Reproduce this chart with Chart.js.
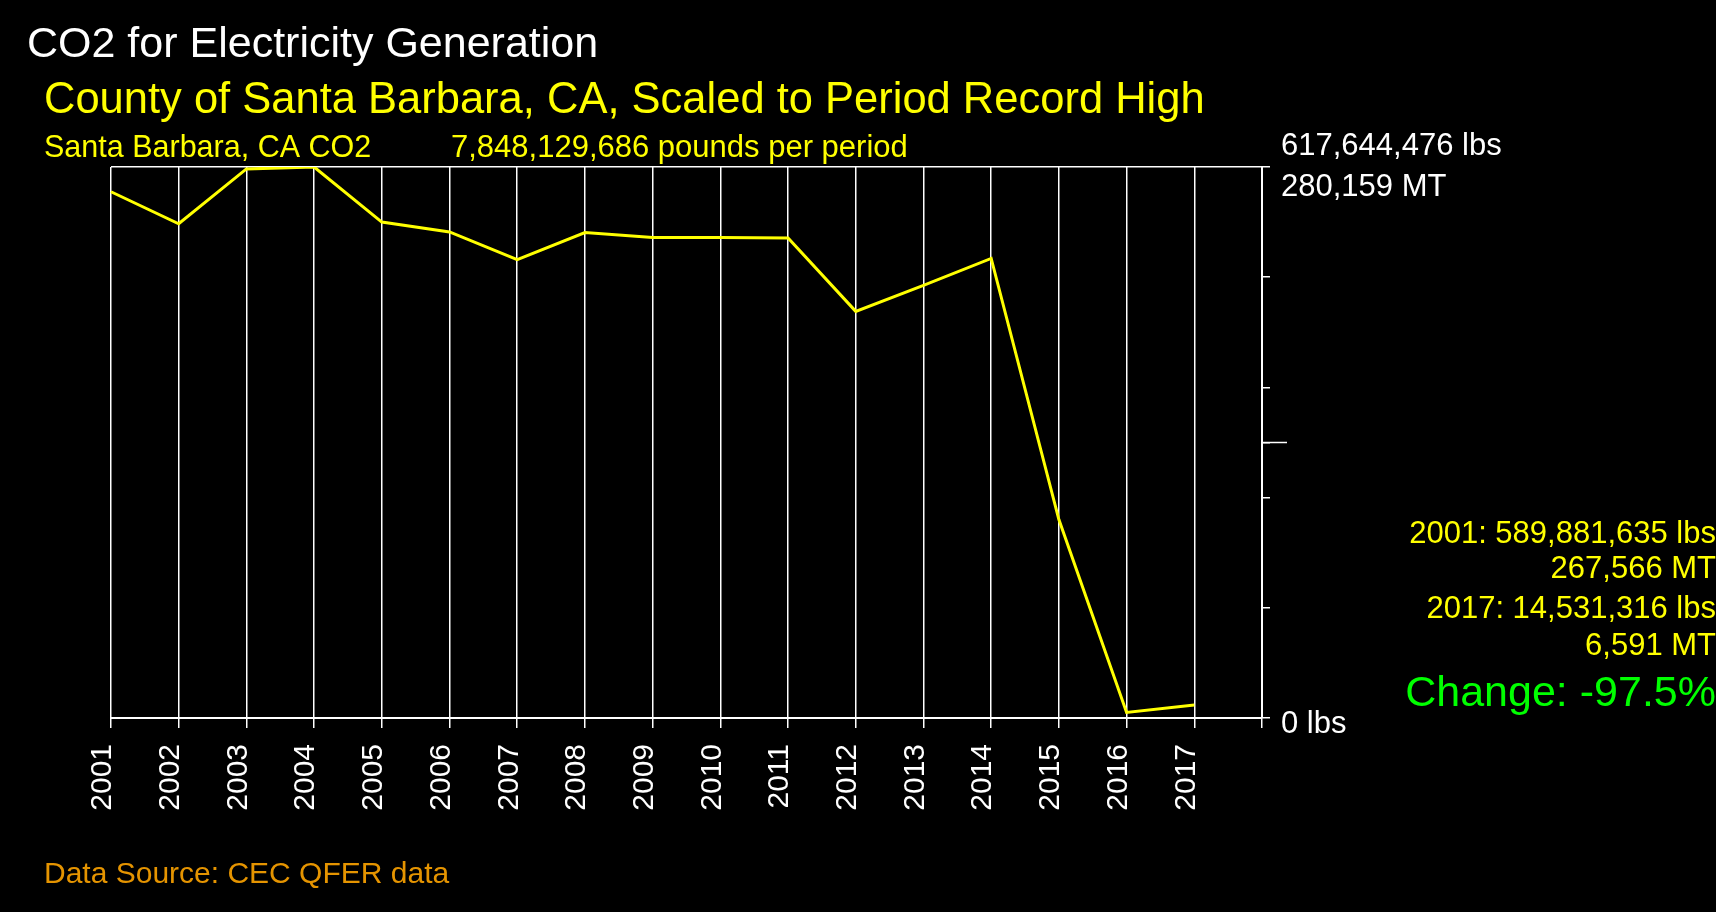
<!DOCTYPE html>
<html>
<head>
<meta charset="utf-8">
<title>CO2 for Electricity Generation</title>
<script src="https://cdn.jsdelivr.net/npm/chart.js@4.4.1/dist/chart.umd.min.js"></script>
<style>
  html, body { margin: 0; padding: 0; background: #000; overflow: hidden; }
  #wrap { width: 1716px; height: 912px; }
</style>
</head>
<body>
<div id="wrap"><canvas id="co2Chart" width="1716" height="912"></canvas></div>
<script>
// Yearly CO2 from electricity generation, Santa Barbara County (pounds)
const years = ['2001', '2002', '2003', '2004', '2005', '2006', '2007', '2008', '2009',
               '2010', '2011', '2012', '2013', '2014', '2015', '2016', '2017'];
const co2Lbs = [589881635, 554000000, 615500000, 617644476, 555900000, 544800000,
                513900000, 544100000, 538600000, 538600000, 538000000, 455800000,
                484900000, 515100000, 222400000, 6200000, 14531316];
const periodTotalLbs = 7848129686;
// right axis ticks, as fractions of the record high
const yTickFractions = [0, 0.2, 0.4, 0.5, 0.6, 0.8, 1];

const LBS_PER_MT = 2204.62;
const FONT = '"Liberation Sans", Arial, sans-serif';

const recordHigh = Math.max(...co2Lbs);
const fmt = n => Math.round(n).toLocaleString('en-US');
const firstIdx = 0;
const lastIdx = co2Lbs.length - 1;
const changePct = (co2Lbs[lastIdx] - co2Lbs[firstIdx]) / co2Lbs[firstIdx] * 100;

// black page background
const bgPlugin = {
    id: 'bg',
    beforeDraw(chart) {
        const c = chart.ctx;
        c.save();
        c.fillStyle = '#000';
        c.fillRect(0, 0, chart.width, chart.height);
        c.restore();
    }
};

// titles, notes and the long middle tick
const notesPlugin = {
    id: 'notes',
    afterDraw(chart) {
        const c = chart.ctx;
        const ys = chart.scales.y;
        c.save();

        // longer tick at half of the record high
        const mid = ys.getPixelForValue(recordHigh * 0.5);
        c.strokeStyle = '#fff';
        c.lineWidth = 1.5;
        c.beginPath();
        c.moveTo(ys.left, mid);
        c.lineTo(ys.left + 25, mid);
        c.stroke();

        c.textAlign = 'left';
        c.textBaseline = 'alphabetic';
        c.font = '43px ' + FONT;
        c.fillStyle = '#fff';
        c.fillText('CO2 for Electricity Generation', 27, 57);
        c.font = '43.5px ' + FONT;
        c.fillStyle = '#ffff00';
        c.fillText('County of Santa Barbara, CA, Scaled to Period Record High', 44, 113);

        c.font = '30.5px ' + FONT;
        c.fillText('Santa Barbara, CA CO2', 44, 157);
        c.font = '31px ' + FONT;
        c.fillText(fmt(periodTotalLbs) + ' pounds per period', 451, 157);

        c.font = '30px ' + FONT;
        c.fillStyle = '#e59400';
        c.fillText('Data Source: CEC QFER data', 44, 883);

        // first / last year summary
        c.font = '31px ' + FONT;
        c.textAlign = 'right';
        c.fillStyle = '#ffff00';
        c.fillText(years[firstIdx] + ': ' + fmt(co2Lbs[firstIdx]) + ' lbs', 1716, 543);
        c.fillText(fmt(co2Lbs[firstIdx] / LBS_PER_MT) + ' MT', 1716, 578);
        c.fillText(years[lastIdx] + ': ' + fmt(co2Lbs[lastIdx]) + ' lbs', 1716, 618);
        c.fillText(fmt(co2Lbs[lastIdx] / LBS_PER_MT) + ' MT', 1716, 655);

        c.font = '43px ' + FONT;
        c.fillStyle = '#00ff00';
        c.fillText('Change: ' + changePct.toFixed(1) + '%', 1716, 706);

        c.restore();
    }
};

const ctx = document.getElementById('co2Chart').getContext('2d');
new Chart(ctx, {
    type: 'line',
    data: {
        labels: years.concat(['']),
        datasets: [{
            label: 'Santa Barbara, CA CO2',
            data: co2Lbs,
            borderColor: '#ffff00',
            borderWidth: 3,
            pointRadius: 0,
            tension: 0,
            fill: false
        }]
    },
    options: {
        responsive: false,
        devicePixelRatio: 1,
        animation: false,
        layout: { padding: { left: 111, top: 167, right: 0, bottom: 0 } },
        plugins: {
            legend: { display: false },
            tooltip: { enabled: false }
        },
        scales: {
            x: {
                type: 'category',
                offset: false,
                grid: { color: '#fff', lineWidth: 1.5, tickLength: 10, drawOnChartArea: true },
                border: { color: '#fff', width: 2 },
                ticks: {
                    color: '#fff',
                    font: { family: FONT, size: 30 },
                    minRotation: 90,
                    maxRotation: 90,
                    autoSkip: false,
                    padding: 16,
                    labelOffset: -8
                },
                afterFit: s => { s.height = 912 - 718; }
            },
            y: {
                position: 'right',
                min: 0,
                max: recordHigh,
                afterBuildTicks: s => {
                    s.ticks = yTickFractions.map(f => ({ value: f * recordHigh }));
                },
                grid: {
                    color: c => (c.tick && c.tick.value === recordHigh) ? '#fff' : 'rgba(0,0,0,0)',
                    tickColor: '#fff',
                    lineWidth: 1.5,
                    tickLength: 8
                },
                border: { color: '#fff', width: 2 },
                ticks: {
                    color: '#fff',
                    // the zero label sits a little below its tick
                    font: c => ({ family: FONT, size: 31, lineHeight: c.index === 0 ? 0.4 : 1.335 }),
                    padding: 11,
                    autoSkip: false,
                    callback: (value, index, ticks) => {
                        if (index === ticks.length - 1) {
                            return [fmt(recordHigh) + ' lbs', fmt(recordHigh / LBS_PER_MT) + ' MT'];
                        }
                        return value === 0 ? ['', '0 lbs'] : '';
                    }
                },
                afterFit: s => { s.width = 1716 - 1262; }
            }
        }
    },
    plugins: [bgPlugin, notesPlugin]
});
</script>
</body>
</html>
